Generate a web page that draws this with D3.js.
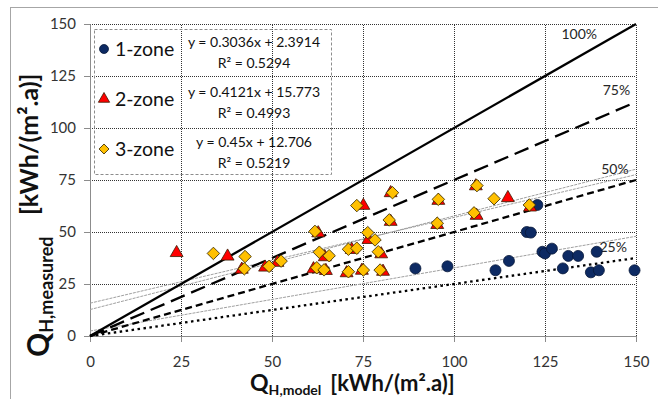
<!DOCTYPE html>
<html>
<head>
<meta charset="utf-8">
<script src="https://cdn.jsdelivr.net/npm/d3@7"></script>
<style>
  body { margin: 0; background: #fff; }
  svg { display: block; font-family: Lato, "Liberation Sans", sans-serif; }
</style>
</head>
<body>
<div id="chart"></div>
<script>
// measured vs modelled heating demand, kWh/(m².a)
const oneZone = [
  [89.4, 32.5], [98.2, 33.5], [111.4, 31.6], [115.1, 36.1], [120.0, 50.0], [121.1, 49.7],
  [122.9, 63.0], [124.3, 40.5], [125.0, 39.7], [126.9, 42.0], [129.9, 32.5], [131.4, 38.5],
  [134.1, 38.5], [137.6, 30.6], [139.8, 31.6], [139.2, 40.5], [149.6, 31.6]
]
const twoZone = [
  [23.8, 39.5], [37.8, 37.8], [41.7, 31.5], [48.1, 32.5], [51.5, 34.8], [61.4, 31.7],
  [62.7, 49.0], [64.5, 37.5], [64.8, 30.9], [70.5, 29.8], [71.9, 41.0], [74.7, 31.0],
  [75.1, 62.2], [76.5, 45.8], [80.0, 38.9], [80.5, 30.5], [82.6, 68.3], [82.6, 54.5],
  [95.7, 64.6], [95.4, 53.0], [106.0, 71.6], [106.2, 57.4], [114.8, 65.9], [120.9, 61.4]
]
const threeZone = [
  [33.9, 39.7], [42.6, 38.2], [42.4, 32.3], [49.2, 33.5], [52.5, 36.0], [61.8, 50.3],
  [63.0, 40.3], [62.3, 32.8], [64.3, 31.8], [65.7, 38.6], [71.0, 41.7], [73.3, 42.2],
  [71.0, 30.9], [73.3, 62.7], [75.1, 31.7], [76.3, 49.7], [78.3, 46.2], [79.2, 40.5],
  [79.7, 31.7], [83.1, 68.9], [82.2, 55.8], [95.7, 65.7], [95.4, 54.2], [106.3, 72.3],
  [105.5, 59.2], [111.0, 66.0], [120.7, 63.0]
]
const seriesNames = ["1-zone", "2-zone", "3-zone"]
const slopes = [0.3036, 0.4121, 0.45]
const intercepts = [2.3914, 15.773, 12.706]
const equations = ["y = 0.3036x + 2.3914", "y = 0.4121x + 15.773", "y = 0.45x + 12.706"]
const rSquared = ["R² = 0.5294", "R² = 0.4993", "R² = 0.5219"]
const ratios = [1, 0.75, 0.5, 0.25]
const ratioLabels = ["100%", "75%", "50%", "25%"]
const ticks = [0, 25, 50, 75, 100, 125, 150]

const width = 658, height = 399
const margin = { top: 24, right: 22, bottom: 63, left: 90 }

const svg = d3.select("#chart").append("svg")
  .attr("width", width)
  .attr("height", height)

// outer chart frame
svg.append("rect")
  .attr("x", 10.5).attr("y", 7.5)
  .attr("width", 800).attr("height", 600)
  .attr("fill", "none").attr("stroke", "#a6a6a6")

const x = d3.scaleLinear().domain([0, 150]).range([margin.left, width - margin.right])
const y = d3.scaleLinear().domain([0, 150]).range([height - margin.bottom, margin.top])

// dotted gridlines
const grid = svg.append("g")
grid.selectAll("line.v").data(ticks.slice(1)).enter().append("line")
  .attr("x1", d => x(d) + 0.5).attr("x2", d => x(d) + 0.5)
  .attr("y1", y(0)).attr("y2", y(150))
  .attr("stroke", "#333").attr("stroke-dasharray", "1,1")
grid.selectAll("line.h").data(ticks.slice(1)).enter().append("line")
  .attr("y1", d => y(d) + 0.5).attr("y2", d => y(d) + 0.5)
  .attr("x1", x(0)).attr("x2", x(150))
  .attr("stroke", "#333").attr("stroke-dasharray", "1,1")

// axes
const xAxis = svg.append("g").attr("transform", `translate(0,${y(0)})`)
xAxis.call(d3.axisBottom(x).tickValues(d3.range(0, 151, 5)).tickSize(6).tickFormat(""))
xAxis.call(d3.axisBottom(x).tickValues(ticks).tickSize(6).tickPadding(14))
xAxis.selectAll("path, line").attr("stroke", "#8c8c8c")
xAxis.selectAll("text").attr("font-size", 15).attr("fill", "#333").attr("font-family", "Lato")

const yAxis = svg.append("g").attr("transform", `translate(${x(0)},0)`)
yAxis.call(d3.axisLeft(y).tickValues(d3.range(0, 151, 5)).tickSize(5).tickFormat(""))
yAxis.call(d3.axisLeft(y).tickValues(ticks).tickSize(6).tickPadding(8))
yAxis.selectAll("path, line").attr("stroke", "#8c8c8c")
yAxis.selectAll("text").attr("font-size", 15).attr("fill", "#333").attr("font-family", "Lato")

// regression trend lines
const line = d3.line().x(d => x(d[0])).y(d => y(d[1]))
slopes.forEach((m, i) => {
  svg.append("path")
    .attr("d", line([[0, intercepts[i]], [150, intercepts[i] + m * 150]]))
    .attr("fill", "none").attr("stroke", "#a0a0a0").attr("stroke-width", 1)
    .attr("stroke-dasharray", "3,1")
})

// ratio lines
const dashes = [null, "15,7", "7,4", "2.5,3.5"]
ratios.forEach((r, i) => {
  svg.append("path")
    .attr("d", line([[0, 0], [150, 150 * r]]))
    .attr("fill", "none").attr("stroke", "#000").attr("stroke-width", 2.3)
    .attr("stroke-dasharray", dashes[i])
})
const ratioLabelPos = [[139.3, 143], [148.4, 116], [148, 78], [147.5, 40.4]]
svg.selectAll("text.ratio").data(ratioLabels).enter().append("text")
  .attr("class", "ratio")
  .attr("x", (d, i) => x(ratioLabelPos[i][0]))
  .attr("y", (d, i) => y(ratioLabelPos[i][1]))
  .attr("text-anchor", "end").attr("font-size", 14).attr("fill", "#262626")
  .text(d => d)

// markers
const tri = d3.symbol().type(d3.symbolTriangle).size(72)
const dia = d3.symbol().type(d3.symbolSquare).size(78)

svg.append("g").selectAll("circle").data(oneZone).enter().append("circle")
  .attr("cx", d => x(d[0])).attr("cy", d => y(d[1])).attr("r", 5.5)
  .attr("fill", "#0d2a63").attr("stroke", "#071838").attr("stroke-width", 0.8)

svg.append("g").selectAll("path").data(twoZone).enter().append("path")
  .attr("d", tri)
  .attr("transform", d => `translate(${x(d[0])},${y(d[1]) - 1})`)
  .attr("fill", "#ff0000").attr("stroke", "#3a1a00").attr("stroke-width", 0.8)

svg.append("g").selectAll("path").data(threeZone).enter().append("path")
  .attr("d", dia)
  .attr("transform", d => `translate(${x(d[0])},${y(d[1])}) rotate(45)`)
  .attr("fill", "#ffc000").attr("stroke", "#3a2a00").attr("stroke-width", 0.8)

// legend with regression results
const legend = svg.append("g")
legend.append("rect")
  .attr("x", 94.5).attr("y", 29.5).attr("width", 237).attr("height", 145)
  .attr("fill", "none").attr("stroke", "#8c8c8c").attr("stroke-dasharray", "3,2")

const rowY = [49, 99, 149]
seriesNames.forEach((name, i) => {
  const g = legend.append("g").attr("transform", `translate(0,${rowY[i]})`)
  if (i === 0) {
    g.append("circle").attr("cx", 104).attr("cy", 0).attr("r", 4.5)
      .attr("fill", "#0d2a63").attr("stroke", "#071838").attr("stroke-width", 0.8)
  } else if (i === 1) {
    g.append("path").attr("d", d3.symbol().type(d3.symbolTriangle).size(55))
      .attr("transform", "translate(104,0)")
      .attr("fill", "#ff0000").attr("stroke", "#3a1a00").attr("stroke-width", 0.8)
  } else {
    g.append("path").attr("d", d3.symbol().type(d3.symbolSquare).size(50))
      .attr("transform", "translate(104,0) rotate(45)")
      .attr("fill", "#ffc000").attr("stroke", "#3a2a00").attr("stroke-width", 0.8)
  }
  g.append("text").attr("x", 115).attr("y", 7).attr("font-size", 19.5).attr("fill", "#111")
    .text(name)
  g.append("text").attr("x", 254).attr("y", -2).attr("text-anchor", "middle")
    .attr("font-size", 14).attr("fill", "#111").text(equations[i])
  g.append("text").attr("x", 254).attr("y", 19).attr("text-anchor", "middle")
    .attr("font-size", 14).attr("fill", "#111").text(rSquared[i])
})

// axis titles
const xTitle = svg.append("text")
  .attr("x", 250).attr("y", 391)
  .attr("font-weight", "bold").attr("fill", "#111")
xTitle.append("tspan").attr("font-size", 23).text("Q")
xTitle.append("tspan").attr("font-size", 14).attr("dy", 4).text("H,model")
xTitle.append("tspan").attr("font-size", 22).attr("dy", -4).attr("dx", 9).text("[kWh/(m².a)]")

const yTitle = svg.append("text")
  .attr("transform", "translate(49,357) rotate(-90)")
  .attr("font-weight", "bold").attr("fill", "#111")
yTitle.append("tspan").attr("font-size", 30).text("Q")
yTitle.append("tspan").attr("font-size", 18).attr("dy", 4).text("H,measured")

svg.append("text")
  .attr("transform", "translate(38,215) rotate(-90)")
  .attr("font-weight", "bold").attr("fill", "#111").attr("font-size", 25)
  .text("[kWh/(m².a)]")
</script>
</body>
</html>
